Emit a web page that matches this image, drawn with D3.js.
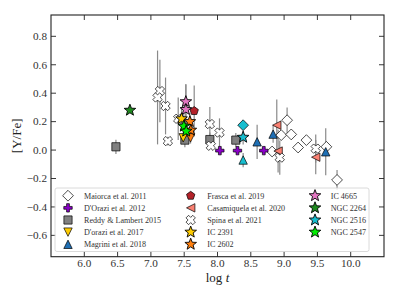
<!DOCTYPE html>
<html><head><meta charset="utf-8">
<script src="https://cdn.jsdelivr.net/npm/d3@7"></script>
<style>body{margin:0;background:#fff}svg{display:block}</style>
</head><body>
<svg id="c" width="399" height="302"></svg>
<script>
// ---- data ----
const xTicks = [6.0, 6.5, 7.0, 7.5, 8.0, 8.5, 9.0, 9.5, 10.0];
const yTicks = [-0.6, -0.4, -0.2, 0.0, 0.2, 0.4, 0.6, 0.8];

const maiorcaT = [9.045, 8.957, 9.107, 9.21, 9.335, 9.635, 9.795, 8.82];
const maiorcaV = [0.21, 0.105, 0.11, 0.018, 0.07, 0.023, -0.21, -0.01];
const maiorcaE = [0.09, 0, 0, 0, 0, 0, 0.07, 0];

const dorazi12T = [8.035, 8.30, 8.695];
const dorazi12V = [-0.004, -0.004, -0.004];

const reddyT = [6.475, 7.51, 7.885, 8.275];
const reddyV = [0.023, 0.07, 0.074, 0.07];
const reddyE = [0.05, 0.05, 0.05, 0.05];

const dorazi17T = [7.485, 7.595];
const dorazi17V = [0.086, 0.086];
const dorazi17E = [0.04, 0.04];
const dorazi17C = ["IC 2391", "IC 2602"];

const magriniT = [8.595, 8.835, 9.625, 8.385];
const magriniV = [0.058, 0.112, -0.012, -0.07];
const magriniE = [0.12, 0.06, 0.165, 0.05];
const magriniC = ["", "", "", "NGC 2516"];

const frascaT = [7.65];
const frascaV = [0.275];
const frascaE = [0.18];

const casaT = [8.89, 8.91, 9.475];
const casaV = [0.175, -0.007, -0.05];
const casaE = [0.18, 0.15, 0.12];

const spinaT = [7.135, 7.10, 7.22, 7.255, 7.41, 7.885, 8.03, 7.90, 8.935, 9.475];
const spinaV = [0.415, 0.37, 0.31, 0.063, 0.22, 0.183, 0.123, 0.03, -0.053, 0.01];
const spinaE = [0.22, 0.33, 0.2, 0.03, 0.15, 0.12, 0.1, 0, 0.12, 0.1];

const teal2516DiamondT = [8.385];
const teal2516DiamondV = [0.175];

const starCluster = ["NGC 2264", "IC 4665", "IC 4665", "IC 2391", "IC 2602", "IC 2602", "NGC 2547", "NGC 2547", "NGC 2516"];
const starT = [6.685, 7.525, 7.525, 7.46, 7.585, 7.60, 7.495, 7.53, 8.385];
const starV = [0.28, 0.34, 0.285, 0.22, 0.2, 0.14, 0.168, 0.133, 0.09];
const starE = [0, 0.12, 0.18, 0.08, 0.06, 0.05, 0.1, 0.08, 0.05];

const studyLabels = ["Maiorca et al. 2011", "D'Orazi et al. 2012", "Reddy & Lambert 2015", "D'orazi et al. 2017", "Magrini et al. 2018",
  "Frasca et al. 2019", "Casamiquela et al. 2020", "Spina et al. 2021"];
const clusterLabels = ["IC 2391", "IC 2602", "IC 4665", "NGC 2264", "NGC 2516", "NGC 2547"];

// ---- styles ----
const clusterColor = {"IC 2391": "#ffcc00", "IC 2602": "#ff7f0e", "IC 4665": "#e377c2", "NGC 2264": "#1f8a1f", "NGC 2516": "#17becf", "NGC 2547": "#00ee00"};

const W = 399, H = 302;
const m = {l: 51, r: 15, t: 15, b: 45.3};
const svg = d3.select("#c");
const x = d3.scaleLinear().domain([5.5, 10.5]).range([m.l, W - m.r]);
const y = d3.scaleLinear().domain([-0.75, 0.95]).range([H - m.b, m.t]);
const FONT = "'Liberation Serif', 'DejaVu Serif', serif";

// marker path builders
function poly(pts){ return "M" + pts.map(p => p[0].toFixed(2) + "," + p[1].toFixed(2)).join("L") + "Z"; }
const mk = {
  diamond: r => poly([[0,-r],[r,0],[0,r],[-r,0]]),
  square: r => poly([[-r,-r],[r,-r],[r,r],[-r,r]]),
  plus: r => { const a = r/3; return poly([[-a,-r],[a,-r],[a,-a],[r,-a],[r,a],[a,a],[a,r],[-a,r],[-a,a],[-r,a],[-r,-a],[-a,-a]]); },
  tdown: r => poly([[0,r],[r,-r],[-r,-r]]),
  tup: r => poly([[0,-r],[r,r],[-r,r]]),
  tleft: r => poly([[-r,0],[r,-r],[r,r]]),
  pent: r => poly(d3.range(5).map(i => { const a = -Math.PI/2 + i*2*Math.PI/5; return [r*Math.cos(a), r*Math.sin(a)]; })),
  star: r => poly(d3.range(10).map(i => { const a = -Math.PI/2 + i*Math.PI/5; const rr = i%2 ? r*0.42 : r; return [rr*Math.cos(a), rr*Math.sin(a)]; })),
  xfill: r => { const a = r*0.38, b = r; const pts = [];
    const base = [[-a,-b],[a,-b],[a,-a],[b,-a],[b,a],[a,a],[a,b],[-a,b],[-a,a],[-b,a],[-b,-a],[-a,-a]];
    const c = Math.SQRT1_2;
    base.forEach(p => pts.push([(p[0]-p[1])*c, (p[0]+p[1])*c]));
    return poly(pts); }
};

// frame & axes
const g = svg.append("g");
const plotW = W - m.r - m.l, plotH = H - m.b - m.t;
const tickLen = 5;
const axisCol = "#222";
xTicks.forEach(t => {
  g.append("line").attr("x1", x(t)).attr("x2", x(t)).attr("y1", y.range()[0]).attr("y2", y.range()[0] - tickLen).attr("stroke", axisCol).attr("stroke-width", 0.9);
  g.append("line").attr("x1", x(t)).attr("x2", x(t)).attr("y1", m.t).attr("y2", m.t + tickLen).attr("stroke", axisCol).attr("stroke-width", 0.9);
  g.append("text").attr("x", x(t)).attr("y", y.range()[0] + 10.4).attr("text-anchor", "middle")
    .attr("font-family", FONT).attr("font-size", 11.2).attr("fill", "#333").text(t.toFixed(1));
});
yTicks.forEach(t => {
  g.append("line").attr("x1", m.l).attr("x2", m.l + tickLen).attr("y1", y(t)).attr("y2", y(t)).attr("stroke", axisCol).attr("stroke-width", 0.9);
  g.append("line").attr("x1", W - m.r).attr("x2", W - m.r - tickLen).attr("y1", y(t)).attr("y2", y(t)).attr("stroke", axisCol).attr("stroke-width", 0.9);
  const lbl = (t < 0 ? "\u2212" : "") + Math.abs(t).toFixed(1);
  g.append("text").attr("x", m.l - 4).attr("y", y(t) + 3.8).attr("text-anchor", "end")
    .attr("font-family", FONT).attr("font-size", 11.2).attr("fill", "#333").text(lbl);
});

// error bars
const eb = svg.append("g").attr("stroke", "#8a8a8a").attr("stroke-width", 1.2);
function errs(T, V, E){ T.forEach((t, i) => { if (E[i] > 0) eb.append("line").attr("x1", x(t)).attr("x2", x(t)).attr("y1", y(V[i] - E[i])).attr("y2", y(V[i] + E[i])); }); }
errs(maiorcaT, maiorcaV, maiorcaE);
errs(reddyT, reddyV, reddyE);
errs(dorazi17T, dorazi17V, dorazi17E);
errs(magriniT, magriniV, magriniE);
errs(frascaT, frascaV, frascaE);
errs(casaT, casaV, casaE);
errs(spinaT, spinaV, spinaE);
errs(starT, starV, starE);

const mg = svg.append("g");
function marks(T, V, shape, r, fill, sw){
  T.forEach((t, i) => {
    mg.append("path").attr("d", mk[shape](r)).attr("transform", `translate(${x(t)},${y(V[i])})`)
      .attr("fill", typeof fill === "function" ? fill(i) : fill).attr("stroke", "#000").attr("stroke-width", sw || 0.7);
  });
}
const R = {diamond: 5.4, plus: 4.2, square: 4.1, tri: 4.2, pent: 4.4, x: 4.8, star: 6.1};
marks(maiorcaT, maiorcaV, "diamond", R.diamond, "#fff");
marks(teal2516DiamondT, teal2516DiamondV, "diamond", R.diamond, clusterColor["NGC 2516"]);
marks(dorazi12T, dorazi12V, "plus", R.plus, "#8a00c8");
marks(reddyT, reddyV, "square", R.square, "#808080");
marks(dorazi17T, dorazi17V, "tdown", R.tri, i => clusterColor[dorazi17C[i]]);
marks(magriniT, magriniV, "tup", R.tri, i => magriniC[i] ? clusterColor[magriniC[i]] : "#1f6fb4");
marks(frascaT, frascaV, "pent", R.pent, "#b3222a");
marks(casaT, casaV, "tleft", R.tri, "#fa8072");
marks(spinaT, spinaV, "xfill", R.x, "#fff");
marks(starT, starV, "star", R.star, i => clusterColor[starCluster[i]], 0.9);

// frame
svg.append("rect").attr("x", m.l).attr("y", m.t).attr("width", plotW).attr("height", plotH)
  .attr("fill", "none").attr("stroke", axisCol).attr("stroke-width", 1.1);

// axis labels
svg.append("text").attr("x", (m.l + W - m.r) / 2).attr("y", 281.5).attr("text-anchor", "middle")
  .attr("font-family", FONT).attr("font-size", 13).attr("fill", "#222")
  .html("log <tspan font-style='italic'>t</tspan>");
svg.append("text").attr("transform", `translate(21,${(m.t + H - m.b) / 2}) rotate(-90)`).attr("text-anchor", "middle")
  .attr("font-family", FONT).attr("font-size", 13).attr("fill", "#222").text("[Y/Fe]");

// legend
const lg = svg.append("g");
lg.append("rect").attr("x", 55).attr("y", 188).attr("width", 314).attr("height", 63.5).attr("rx", 2)
  .attr("fill", "#fff").attr("fill-opacity", 0.85).attr("stroke", "#d0d0d0").attr("stroke-width", 0.8);
const legendItems = [
  {l: studyLabels[0], s: "diamond", r: R.diamond, f: "#fff"},
  {l: studyLabels[1], s: "plus", r: R.plus, f: "#8a00c8"},
  {l: studyLabels[2], s: "square", r: R.square, f: "#808080"},
  {l: studyLabels[3], s: "tdown", r: R.tri, f: "#ffcc00"},
  {l: studyLabels[4], s: "tup", r: R.tri, f: "#1f6fb4"},
  {l: studyLabels[5], s: "pent", r: R.pent, f: "#b3222a"},
  {l: studyLabels[6], s: "tleft", r: R.tri, f: "#fa8072"},
  {l: studyLabels[7], s: "xfill", r: R.x, f: "#fff"},
  {l: clusterLabels[0], s: "star", r: R.star, f: clusterColor["IC 2391"]},
  {l: clusterLabels[1], s: "star", r: R.star, f: clusterColor["IC 2602"]},
  {l: clusterLabels[2], s: "star", r: R.star, f: clusterColor["IC 4665"]},
  {l: clusterLabels[3], s: "star", r: R.star, f: clusterColor["NGC 2264"]},
  {l: clusterLabels[4], s: "star", r: R.star, f: clusterColor["NGC 2516"]},
  {l: clusterLabels[5], s: "star", r: R.star, f: clusterColor["NGC 2547"]}
];
const colX = [[68, 84], [190.7, 207.3], [315, 330.7]];
legendItems.forEach((it, i) => {
  const col = Math.floor(i / 5), row = i % 5;
  const ly = 195.7 + row * 12.15;
  lg.append("path").attr("d", mk[it.s](it.r)).attr("transform", `translate(${colX[col][0]},${ly})`)
    .attr("fill", it.f).attr("stroke", "#000").attr("stroke-width", it.s === "star" ? 0.9 : 0.7);
  lg.append("text").attr("x", colX[col][1]).attr("y", ly + 2.9).attr("font-family", FONT)
    .attr("font-size", 8.1).attr("fill", "#333").text(it.l);
});
</script>
</body></html>
